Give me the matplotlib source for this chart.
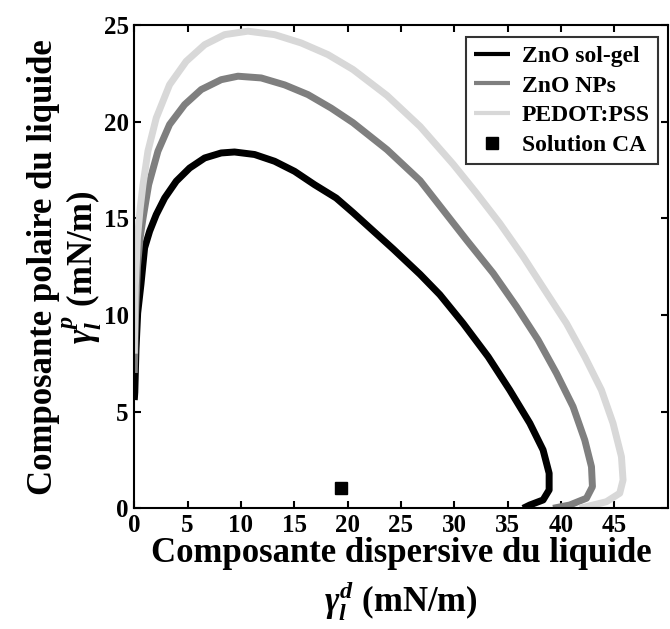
import matplotlib
matplotlib.use("Agg")
import matplotlib.pyplot as plt

plt.rcParams['font.family'] = ['Liberation Serif', 'DejaVu Serif']
plt.rcParams['font.weight'] = 'bold'
plt.rcParams['mathtext.fontset'] = 'custom'
plt.rcParams['mathtext.rm'] = 'Liberation Serif:bold'
plt.rcParams['mathtext.it'] = 'Liberation Serif:bold:italic'
plt.rcParams['mathtext.bf'] = 'Liberation Serif:bold'

# wetting envelopes (dispersive, polar) in mN/m
solgel_d = [0.0, 0.05, 0.16, 0.32, 0.63, 0.97, 1.44, 2.06, 2.85, 3.94, 5.19,
            6.6, 8.15, 9.4, 11.28, 13.16, 15.03, 16.9, 18.93, 20.5, 22.4,
            24.3, 26.8, 28.65, 30.83, 33.18, 35.2, 37.09, 38.33, 38.9, 38.9,
            38.33, 37.09, 36.46]
solgel_p = [5.6, 6.0, 8.2, 10.1, 11.6, 13.47, 14.33, 15.19, 16.05, 16.92, 17.6,
            18.12, 18.38, 18.43, 18.3, 17.95, 17.43, 16.74, 16.05, 15.3, 14.35,
            13.4, 12.1, 11.05, 9.57, 7.84, 6.12, 4.4, 3.02, 1.81, 0.95, 0.43,
            0.17, 0.0]

nps_d = [0.0, 0.12, 0.3, 0.55, 0.82, 1.35, 2.22, 3.31, 4.72, 6.28, 8.15, 9.72,
         11.9, 14.1, 16.28, 18.46, 20.5, 23.7, 26.8, 31.15, 33.65, 35.84,
         37.86, 39.59, 41.14, 42.24, 42.87, 42.96, 42.4, 40.83, 39.27]
nps_p = [7.0, 10.0, 12.5, 14.0, 15.0, 16.74, 18.47, 19.85, 20.88, 21.66, 22.17,
         22.35, 22.26, 21.9, 21.4, 20.7, 19.95, 18.55, 16.95, 13.88, 12.16,
         10.43, 8.71, 6.98, 5.26, 3.53, 2.15, 1.12, 0.52, 0.17, 0.0]

pedot_d = [0.0, 0.1, 0.3, 0.55, 0.82, 1.28, 2.06, 3.31, 4.87, 6.6, 8.47, 10.66,
           13.16, 15.65, 18.15, 20.5, 23.7, 26.8, 29.9, 32.09, 34.27, 36.46,
           38.49, 40.52, 42.24, 43.8, 44.89, 45.68, 45.83, 45.52, 44.27, 41.77]
pedot_p = [8.0, 11.5, 14.0, 15.5, 16.74, 18.47, 20.19, 21.91, 23.12, 23.98,
           24.5, 24.68, 24.5, 24.07, 23.47, 22.7, 21.35, 19.75, 17.8, 16.3,
           14.74, 13.02, 11.29, 9.57, 7.84, 6.12, 4.4, 2.67, 1.46, 0.78, 0.34,
           0.0]

# probe liquid
ca_d = [19.4]
ca_p = [1.03]

fig = plt.figure(figsize=(6.7, 6.29), dpi=100)
ax = fig.add_axes([0.2004, 0.1919, 0.7959, 0.7684])

ax.plot(solgel_d, solgel_p, color='#000000', lw=5, solid_joinstyle='round',
        solid_capstyle='butt', label='ZnO sol-gel')
ax.plot(nps_d, nps_p, color='#7f7f7f', lw=5, solid_joinstyle='round',
        solid_capstyle='butt', label='ZnO NPs')
ax.plot(pedot_d, pedot_p, color='#d8d8d8', lw=5, solid_joinstyle='round',
        solid_capstyle='butt', label='PEDOT:PSS')
ax.plot(ca_d, ca_p, 's', color='black', ms=8.5, label='Solution CA')

ax.set_xlim(0, 50)
ax.set_ylim(0, 25)
ax.set_xticks(range(0, 50, 5))
ax.set_yticks(range(0, 30, 5))
ax.tick_params(direction='in', top=True, right=True, length=5, width=1.5,
               labelsize=18, pad=4)
for lbl in ax.get_xticklabels() + ax.get_yticklabels():
    lbl.set_fontweight('bold')
for s in ax.spines.values():
    s.set_linewidth(1.5)

ax.set_xlabel('Composante dispersive du liquide\n$\\gamma_l^d$ (mN/m)',
              fontsize=25, fontweight='bold', labelpad=0, linespacing=1.3)
ax.set_ylabel('Composante polaire du liquide\n$\\gamma_l^p$ (mN/m)',
              fontsize=25, fontweight='bold', labelpad=0, linespacing=1.0)

leg = ax.legend(loc='upper right', bbox_to_anchor=(0.982, 0.975),
                borderaxespad=0, fancybox=False, edgecolor='black',
                fontsize=17, handlelength=1.5, labelspacing=0.35,
                handletextpad=0.5, borderpad=0.35)
leg.get_frame().set_linewidth(1.5)
for ln in leg.get_lines()[:3]:
    ln.set_linewidth(3)

fig.savefig('out.png', dpi=100)
